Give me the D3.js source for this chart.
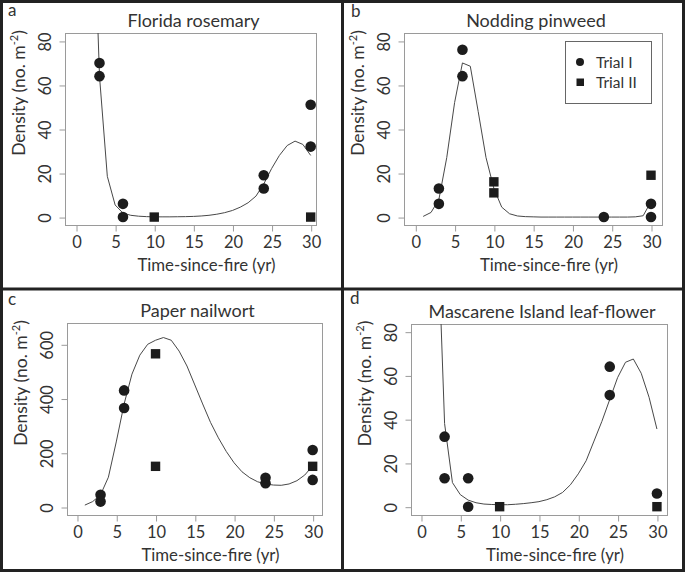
<!DOCTYPE html>
<html>
<head>
<meta charset="utf-8">
<script src="https://cdn.jsdelivr.net/npm/d3@7"></script>
<style>
  body { margin: 0; background: #fff; }
  text { font-family: Lato, "Open Sans", sans-serif; fill: #333; }
</style>
</head>
<body>
<svg id="chart" width="685" height="572"></svg>
<script>
// x ticks shared by every panel
const xTicks = [0, 5, 10, 15, 20, 25, 30];
const yTicksSmall = [0, 20, 40, 60, 80];
const yTicksNailwort = [0, 200, 400, 600];

// a - Florida rosemary
const roseTrialIx = [3, 3, 6, 6, 24, 24, 30, 30];
const roseTrialIy = [70, 64, 6, 0, 19, 13, 51, 32];
const roseTrialIIx = [10, 30];
const roseTrialIIy = [0, 0];
const roseFitX = [2, 3, 4, 5, 6, 7, 8, 9, 10, 11, 12, 13, 14, 15, 16, 17, 18, 19, 20, 21, 22, 23, 24, 25, 26, 27, 28, 29, 30];
const roseFitY = [170, 64, 18.5, 5.5, 1.8, 0.8, 0.4, 0.2, 0.1, 0.1, 0.1, 0.15, 0.2, 0.3, 0.5, 0.8, 1.3, 2, 3, 4.5, 6.5, 9.5, 15, 22, 28, 32.5, 34.5, 33, 28];

// b - Nodding pinweed
const pinTrialIx = [3, 3, 6, 6, 24, 30, 30];
const pinTrialIy = [13, 6, 76, 64, 0, 6, 0];
const pinTrialIIx = [10, 10, 30];
const pinTrialIIy = [16, 11, 19];
const pinFitX = [1, 2, 3, 4, 5, 6, 7, 8, 9, 10, 11, 12, 13, 14, 15, 16, 17, 18, 19, 20, 21, 22, 23, 24, 25, 26, 27, 28, 29, 30];
const pinFitY = [0.3, 2.1, 8, 27, 52, 70, 68.5, 48, 27, 13, 4.5, 1.5, 0.5, 0.2, 0.1, 0, 0, 0, 0, 0, 0, 0, 0, 0, 0, 0, 0, 0.1, 0.6, 7];

// c - Paper nailwort
const nailTrialIx = [3, 3, 6, 6, 24, 24, 30, 30];
const nailTrialIy = [45, 20, 430, 365, 108, 88, 210, 100];
const nailTrialIIx = [10, 10, 30];
const nailTrialIIy = [565, 150, 150];
const nailFitX = [1, 2, 3, 4, 5, 6, 7, 8, 9, 10, 11, 12, 13, 14, 15, 16, 17, 18, 19, 20, 21, 22, 23, 24, 25, 26, 27, 28, 29, 30];
const nailFitY = [7, 20, 45, 110, 240, 380, 490, 560, 600, 615, 625, 615, 575, 520, 450, 380, 312, 255, 205, 163, 130, 108, 93, 85, 81, 80, 85, 97, 118, 152];

// d - Mascarene Island leaf-flower
const leafTrialIx = [3, 3, 6, 6, 24, 24, 30];
const leafTrialIy = [32, 13, 13, 0, 64, 51, 6];
const leafTrialIIx = [10, 30];
const leafTrialIIy = [0, 0];
const leafFitX = [2, 3, 4, 5, 6, 7, 8, 9, 10, 11, 12, 13, 14, 15, 16, 17, 18, 19, 20, 21, 22, 23, 24, 25, 26, 27, 28, 29, 30];
const leafFitY = [140, 38, 11, 5.5, 3, 1.8, 1.2, 1, 0.9, 0.9, 1.1, 1.4, 1.8, 2.3, 3.2, 4.5, 6.5, 10, 15, 21, 30, 39, 49, 59, 66, 67.5, 61, 50, 35.5];

const legendLabels = ["Trial I", "Trial II"];

// panel layout (pixel boxes and axis extents)
const panels = [
	{ letter: "a", title: "Florida rosemary", lx: 8, ly: 16,
	  box: { l: 65, r: 316, t: 33, b: 225 }, xDom: [-1.41, 30.68], yDom: [-3.6, 83.6], yTicks: yTicksSmall,
	  ix: roseTrialIx, iy: roseTrialIy, iix: roseTrialIIx, iiy: roseTrialIIy, fx: roseFitX, fy: roseFitY },
	{ letter: "b", title: "Nodding pinweed", lx: 351, ly: 17,
	  box: { l: 404, r: 662, t: 33, b: 225 }, xDom: [-1.44, 31.4], yDom: [-3.6, 83.6], yTicks: yTicksSmall,
	  ix: pinTrialIx, iy: pinTrialIy, iix: pinTrialIIx, iiy: pinTrialIIy, fx: pinFitX, fy: pinFitY, legend: true },
	{ letter: "c", title: "Paper nailwort", lx: 8, ly: 305,
	  box: { l: 67, r: 322, t: 323, b: 515 }, xDom: [-1.27, 31.19], yDom: [-29.5, 678.6], yTicks: yTicksNailwort,
	  ix: nailTrialIx, iy: nailTrialIy, iix: nailTrialIIx, iiy: nailTrialIIy, fx: nailFitX, fy: nailFitY },
	{ letter: "d", title: "Mascarene Island leaf-flower", lx: 350, ly: 304,
	  box: { l: 411, r: 667, t: 324, b: 515 }, xDom: [-1.27, 31.28], yDom: [-3.8, 83.5], yTicks: yTicksSmall,
	  ix: leafTrialIx, iy: leafTrialIy, iix: leafTrialIIx, iiy: leafTrialIIy, fx: leafFitX, fy: leafFitY }
];

const svg = d3.select("#chart");
const boxColor = "#9a9a9a";
const markColor = "#1c1c1c";
const fontStack = "Lato, 'Open Sans', sans-serif";

function drawPanel(p, idx) {
	const b = p.box;
	const x = d3.scaleLinear().domain(p.xDom).range([b.l, b.r]);
	const y = d3.scaleLinear().domain(p.yDom).range([b.b, b.t]);
	const g = svg.append("g");

	// clip for the fitted curve
	g.append("clipPath").attr("id", "clip" + idx)
		.append("rect")
		.attr("x", b.l).attr("y", b.t)
		.attr("width", b.r - b.l).attr("height", b.b - b.t);

	// plot box
	g.append("rect")
		.attr("x", b.l + 0.5).attr("y", b.t + 0.5)
		.attr("width", b.r - b.l).attr("height", b.b - b.t)
		.attr("fill", "none").attr("stroke", boxColor).attr("stroke-width", 1);

	// x axis
	const xAxis = g.append("g")
		.attr("transform", `translate(0.5,${b.b + 0.5})`)
		.call(d3.axisBottom(x).tickValues(xTicks).tickSize(6).tickPadding(5).tickSizeOuter(0));
	xAxis.select(".domain").remove();
	xAxis.selectAll("line").attr("stroke", boxColor);
	xAxis.selectAll("text").attr("font-size", 16.5).attr("fill", "#333").style("font-family", fontStack);

	// y axis with rotated labels
	const yAxis = g.append("g")
		.attr("transform", `translate(${b.l + 0.5},0.5)`)
		.call(d3.axisLeft(y).tickValues(p.yTicks).tickSize(6).tickFormat(d3.format("d")));
	yAxis.select(".domain").remove();
	yAxis.selectAll("line").attr("stroke", boxColor);
	yAxis.selectAll("text")
		.attr("font-size", 16.5).attr("fill", "#333").style("font-family", fontStack)
		.attr("x", null).attr("dy", null)
		.attr("text-anchor", "middle")
		.attr("transform", "translate(-15,0) rotate(-90)");

	// fitted curve
	const fit = p.fx.map((v, i) => [v, p.fy[i]]);
	g.append("path")
		.datum(fit)
		.attr("clip-path", `url(#clip${idx})`)
		.attr("fill", "none")
		.attr("stroke", "#484848")
		.attr("stroke-width", 1)
		.attr("d", d3.line().x(d => x(d[0])).y(d => y(d[1])));

	// Trial I - circles
	g.selectAll(".trial1")
		.data(p.ix.map((v, i) => [v, p.iy[i]]))
		.enter().append("circle")
		.attr("class", "trial1")
		.attr("cx", d => x(d[0])).attr("cy", d => y(d[1]))
		.attr("r", 5.3).attr("fill", markColor);

	// Trial II - squares
	g.selectAll(".trial2")
		.data(p.iix.map((v, i) => [v, p.iiy[i]]))
		.enter().append("rect")
		.attr("class", "trial2")
		.attr("x", d => x(d[0]) - 4.7).attr("y", d => y(d[1]) - 4.7)
		.attr("width", 9.4).attr("height", 9.4).attr("fill", markColor);

	// title
	g.append("text")
		.attr("x", (b.l + b.r) / 2 + 3).attr("y", b.t - 6)
		.attr("text-anchor", "middle").attr("font-size", 18)
		.text(p.title);

	// panel letter
	g.append("text")
		.attr("x", p.lx).attr("y", p.ly)
		.attr("font-size", 17)
		.text(p.letter);

	// x title
	g.append("text")
		.attr("x", (b.l + b.r) / 2 + 16).attr("y", b.b + 46)
		.attr("text-anchor", "middle").attr("font-size", 16.8)
		.text("Time-since-fire (yr)");

	// y title with superscript
	const yt = g.append("text")
		.attr("text-anchor", "middle").attr("font-size", 17.5)
		.attr("transform", `translate(${b.l - 40},${(b.t + b.b) / 2 - 36}) rotate(-90)`);
	yt.append("tspan").text("Density (no. m");
	yt.append("tspan").attr("font-size", 11).attr("dy", -7).text("-2");
	yt.append("tspan").attr("dy", 7).text(")");

	if (p.legend) {
		const lg = g.append("g");
		lg.append("rect")
			.attr("x", 565.5).attr("y", 41.5).attr("width", 86).attr("height", 62)
			.attr("fill", "#fff").attr("stroke", "#666").attr("stroke-width", 1);
		lg.append("circle").attr("cx", 580).attr("cy", 62).attr("r", 4).attr("fill", markColor);
		lg.append("rect").attr("x", 576.5).attr("y", 78.5).attr("width", 7.5).attr("height", 7.5).attr("fill", markColor);
		lg.selectAll(".lt").data(legendLabels).enter().append("text")
			.attr("class", "lt")
			.attr("x", 596).attr("y", (d, i) => 67.5 + i * 20.5)
			.attr("font-size", 15.5)
			.text(d => d);
	}
}

panels.forEach(drawPanel);

// outer frame and dividers
svg.append("rect")
	.attr("x", 1.5).attr("y", 1.5).attr("width", 682).attr("height", 569)
	.attr("fill", "none").attr("stroke", "#222").attr("stroke-width", 3);
svg.append("line").attr("x1", 342.5).attr("x2", 342.5).attr("y1", 0).attr("y2", 572)
	.attr("stroke", "#222").attr("stroke-width", 3);
svg.append("line").attr("x1", 0).attr("x2", 685).attr("y1", 289).attr("y2", 289)
	.attr("stroke", "#222").attr("stroke-width", 3);
</script>
</body>
</html>
